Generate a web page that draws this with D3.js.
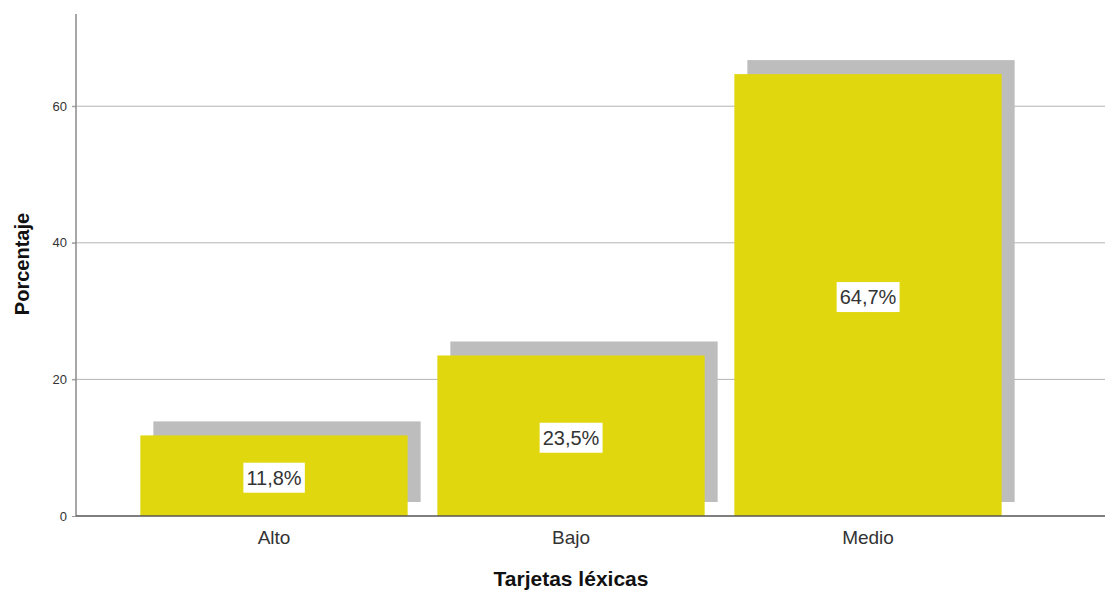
<!DOCTYPE html>
<html>
<head>
<meta charset="utf-8">
<script src="https://cdn.jsdelivr.net/npm/d3@7"></script>
<style>
  html, body { margin: 0; padding: 0; background: #fff; }
  svg { display: block; font-family: "Liberation Sans", Arial, sans-serif; }
  .grid line { stroke: #b4b4b4; stroke-width: 1; }
  .axis-y text { font-size: 13px; fill: #333; }
  .axis-x text { font-size: 19px; fill: #333; }
</style>
</head>
<body>
<div id="chart"></div>
<script>
// Datos del gráfico (porcentajes por categoría)
const categories = ["Alto", "Bajo", "Medio"];
const percents   = [11.8, 23.5, 64.7];
const valueLabels = ["11,8%", "23,5%", "64,7%"];
const yTicks     = [0, 20, 40, 60];

const width = 1105, height = 591;
const axisX = 76, baseY = 516, topY = 14, rightX = 1105;
const shadowDx = 13, shadowDy = -14;

const data = categories.map((c, i) => ({ cat: c, pct: percents[i], label: valueLabels[i] }));

const svg = d3.select("#chart").append("svg")
  .attr("width", width).attr("height", height);

const x = d3.scaleBand()
  .domain(categories)
  .range([125.5, 1016.5])
  .paddingInner(0.1)
  .paddingOuter(0.05);

const y = d3.scaleLinear()
  .domain([0, 73.5])
  .range([baseY, topY]);

// Grid horizontal
svg.append("g")
  .attr("class", "grid")
  .selectAll("line")
  .data(yTicks.filter(t => t > 0))
  .join("line")
  .attr("x1", axisX - 4).attr("x2", rightX)
  .attr("y1", d => y(d)).attr("y2", d => y(d));

// Sombras
svg.append("g").selectAll("rect.shadow")
  .data(data)
  .join("rect")
  .attr("class", "shadow")
  .attr("x", d => x(d.cat) + shadowDx)
  .attr("y", d => y(d.pct) + shadowDy)
  .attr("width", x.bandwidth())
  .attr("height", d => baseY - y(d.pct))
  .attr("fill", "#bdbdbd");

// Barras
svg.append("g").selectAll("rect.bar")
  .data(data)
  .join("rect")
  .attr("class", "bar")
  .attr("x", d => x(d.cat))
  .attr("y", d => y(d.pct))
  .attr("width", x.bandwidth())
  .attr("height", d => baseY - y(d.pct))
  .attr("fill", "#e1d70f");

// Eje Y
const gy = svg.append("g")
  .attr("class", "axis-y")
  .attr("transform", `translate(${axisX},0)`)
  .call(d3.axisLeft(y).tickValues(yTicks).tickSize(4).tickPadding(5).tickFormat(d3.format("d")));
gy.select(".domain").remove();
gy.selectAll(".tick line").attr("stroke", "#999");
svg.append("line")
  .attr("x1", axisX).attr("x2", axisX)
  .attr("y1", topY).attr("y2", baseY)
  .attr("stroke", "#8a8a8a").attr("stroke-width", 1.5);

// Eje X
const gx = svg.append("g")
  .attr("class", "axis-x")
  .attr("transform", `translate(0,${baseY})`)
  .call(d3.axisBottom(x).tickSize(0).tickPadding(15));
gx.select(".domain").remove();
svg.append("line")
  .attr("x1", axisX).attr("x2", rightX)
  .attr("y1", baseY).attr("y2", baseY)
  .attr("stroke", "#555").attr("stroke-width", 1.5);

// Etiquetas de valor con caja blanca
const lbl = svg.append("g").selectAll("g.val")
  .data(data)
  .join("g")
  .attr("class", "val")
  .attr("transform", d => `translate(${x(d.cat) + x.bandwidth() / 2},${(y(d.pct) + baseY) / 2 + 2})`);

lbl.append("rect").attr("fill", "#fff");
lbl.append("text")
  .attr("text-anchor", "middle")
  .attr("dy", "0.35em")
  .style("font-size", "20px")
  .attr("fill", "#333")
  .text(d => d.label);
lbl.each(function () {
  const b = d3.select(this).select("text").node().getBBox();
  d3.select(this).select("rect")
    .attr("x", b.x - 3).attr("y", -15)
    .attr("width", b.width + 6).attr("height", 30);
});

// Títulos de los ejes
svg.append("text")
  .attr("x", 571).attr("y", 586)
  .attr("text-anchor", "middle")
  .style("font-size", "21px").style("font-weight", "bold")
  .attr("fill", "#111")
  .text("Tarjetas léxicas");

svg.append("text")
  .attr("transform", "translate(29,264) rotate(-90)")
  .attr("text-anchor", "middle")
  .style("font-size", "20px").style("font-weight", "bold")
  .attr("fill", "#111")
  .text("Porcentaje");
</script>
</body>
</html>
